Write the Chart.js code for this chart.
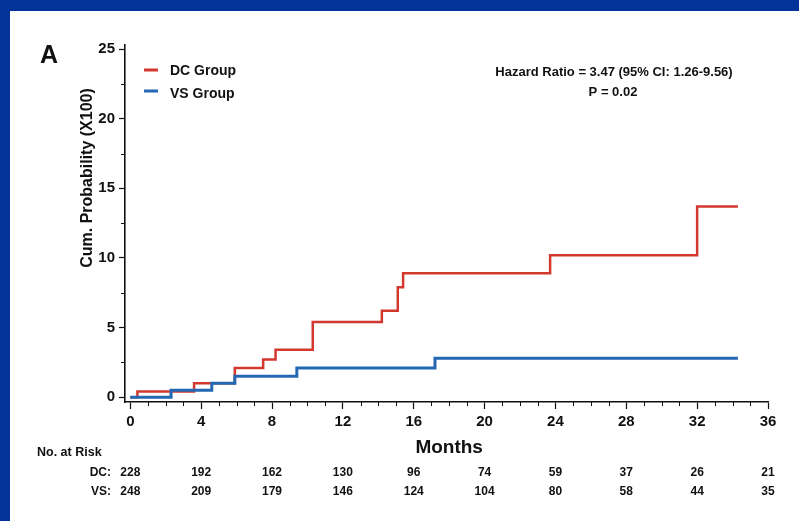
<!DOCTYPE html>
<html>
<head>
<meta charset="utf-8">
<title>Cumulative probability - DC vs VS</title>
<script src="https://cdn.jsdelivr.net/npm/chart.js"></script>
<style>
  html, body { margin: 0; padding: 0; background: #fff; }
  #wrap { width: 799px; height: 521px; }
</style>
</head>
<body>
<div id="wrap"><canvas id="km" width="799" height="521"></canvas></div>
<script>
// step points: month where the curve jumps, value after the jump (x100)
const dcMonths = [0, 0.4, 3.6, 5.9, 7.5, 8.2, 10.3, 14.2, 15.1, 15.4, 23.7, 32.0, 34.3];
const dcProb   = [0, 0.4, 1.0, 2.1, 2.7, 3.4, 5.4, 6.2, 7.9, 8.9, 10.2, 13.7, 13.7];
const vsMonths = [0, 2.3, 4.6, 5.9, 9.4, 17.2, 34.3];
const vsProb   = [0, 0.5, 1.0, 1.5, 2.1, 2.8, 2.8];

const monthTicks = [0, 4, 8, 12, 16, 20, 24, 28, 32, 36];
const probTicks  = [0, 5, 10, 15, 20, 25];
const dcAtRisk = [228, 192, 162, 130, 96, 74, 59, 37, 26, 21];
const vsAtRisk = [248, 209, 179, 146, 124, 104, 80, 58, 44, 35];

const RED = '#d3382f';
const BLUE = '#2467b3';
const FONT = '"Liberation Sans", Arial, sans-serif';

const toPoints = (xs, ys) => xs.map((x, i) => ({ x: x, y: ys[i] }));

// frame, minor ticks and all the free text around the plot
const decor = {
  id: 'decor',
  beforeDraw(chart) {
    const c = chart.ctx;
    c.save();
    c.fillStyle = '#013399';
    c.fillRect(0, 0, chart.width, chart.height);
    c.fillStyle = '#ffffff';
    c.fillRect(10, 11, chart.width - 10, chart.height - 11);
    c.restore();
  },
  afterDraw(chart) {
    const c = chart.ctx;
    const xs = chart.scales.x, ys = chart.scales.y;
    const area = chart.chartArea;
    c.save();
    c.strokeStyle = '#111';
    c.lineWidth = 1;
    // minor ticks
    for (let m = 0; m <= 36; m++) {
      if (m % 4 === 0) continue;
      const px = Math.round(xs.getPixelForValue(m)) + 0.5;
      c.beginPath(); c.moveTo(px, area.bottom); c.lineTo(px, area.bottom + 4); c.stroke();
    }
    for (let v = 2.5; v < 25; v += 5) {
      const py = Math.round(ys.getPixelForValue(v)) + 0.5;
      c.beginPath(); c.moveTo(area.left, py); c.lineTo(area.left - 4, py); c.stroke();
    }

    c.fillStyle = '#111';
    c.textAlign = 'center';
    c.textBaseline = 'middle';

    c.font = 'bold 25px ' + FONT;
    c.fillText('A', 49, 56);

    c.font = 'bold 19px ' + FONT;
    c.fillText('Months', xs.getPixelForValue(18), 448);

    c.save();
    c.translate(88, 178);
    c.rotate(-Math.PI / 2);
    c.font = 'bold 16px ' + FONT;
    c.fillText('Cum. Probability (X100)', 0, 0);
    c.restore();

    // legend
    c.lineWidth = 3;
    c.strokeStyle = RED;
    c.beginPath(); c.moveTo(144, 70); c.lineTo(158, 70); c.stroke();
    c.strokeStyle = BLUE;
    c.beginPath(); c.moveTo(144, 91); c.lineTo(158, 91); c.stroke();
    c.textAlign = 'left';
    c.font = 'bold 14px ' + FONT;
    c.fillText('DC Group', 170, 71);
    c.fillText('VS Group', 170, 94);

    c.textAlign = 'center';
    c.font = 'bold 13px ' + FONT;
    c.fillText('Hazard Ratio = 3.47 (95% CI: 1.26-9.56)', 614, 72);
    c.fillText('P = 0.02', 613, 92);

    // number at risk
    c.font = 'bold 12.5px ' + FONT;
    c.textAlign = 'left';
    c.fillText('No. at Risk', 37, 453);
    c.font = 'bold 12px ' + FONT;
    c.textAlign = 'right';
    c.fillText('DC:', 111, 473);
    c.fillText('VS:', 111, 492);
    c.textAlign = 'center';
    monthTicks.forEach((m, i) => {
      const px = xs.getPixelForValue(m);
      c.fillText(String(dcAtRisk[i]), px, 473);
      c.fillText(String(vsAtRisk[i]), px, 492);
    });
    c.restore();
  }
};

new Chart(document.getElementById('km'), {
  type: 'line',
  data: {
    datasets: [
      {
        label: 'VS Group',
        data: toPoints(vsMonths, vsProb),
        borderColor: BLUE,
        borderWidth: 3,
        stepped: true,
        pointRadius: 0,
        fill: false
      },
      {
        label: 'DC Group',
        data: toPoints(dcMonths, dcProb),
        borderColor: RED,
        borderWidth: 2.5,
        stepped: true,
        pointRadius: 0,
        fill: false
      }
    ]
  },
  options: {
    responsive: false,
    animation: false,
    devicePixelRatio: 1,
    layout: { padding: { top: 45, right: 31, left: 0, bottom: 0 } },
    plugins: { legend: { display: false }, tooltip: { enabled: false } },
    scales: {
      x: {
        type: 'linear',
        min: -0.3,
        max: 36,
        afterBuildTicks: s => { s.ticks = monthTicks.map(v => ({ value: v })); },
        afterFit: s => { s.height = 119; },
        grid: { drawOnChartArea: false, tickLength: 7, tickColor: '#111', tickWidth: 1.2 },
        border: { color: '#111', width: 1.6 },
        ticks: {
          color: '#111',
          padding: 4,
          maxRotation: 0,
          font: { family: FONT, size: 15, weight: 'bold' }
        }
      },
      y: {
        type: 'linear',
        min: -0.35,
        max: 25.3,
        afterBuildTicks: s => { s.ticks = probTicks.map(v => ({ value: v })); },
        afterFit: s => { s.width = 125; },
        grid: { drawOnChartArea: false, tickLength: 6, tickColor: '#111', tickWidth: 1.2 },
        border: { color: '#111', width: 1.6 },
        ticks: {
          color: '#111',
          padding: 4,
          font: { family: FONT, size: 15, weight: 'bold' }
        }
      }
    }
  },
  plugins: [decor]
});
</script>
</body>
</html>
